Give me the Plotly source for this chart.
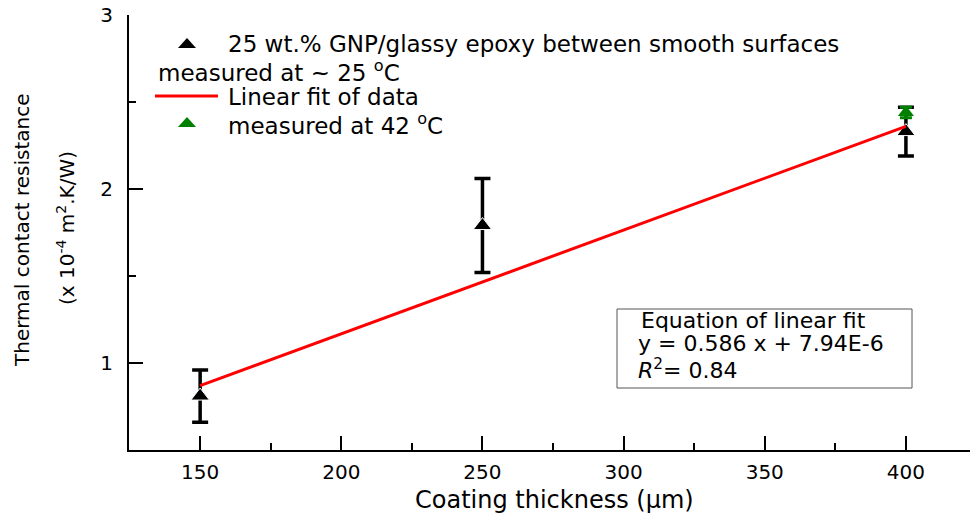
import plotly.graph_objects as go

# ---- data ----
thickness = [150, 250, 400]            # coating thickness (um)
resistance = [0.81, 1.79, 2.33]        # x 1e-4 m2.K/W, measured at ~25 C
resistance_err = [0.15, 0.27, 0.14]
hot_thickness = [400]                  # measured at 42 C
hot_resistance = [2.44]
hot_err = [0.03]
fit_x = [150, 400]                     # linear fit end points
fit_y = [0.87, 2.36]
x_tick_vals = [150, 200, 250, 300, 350, 400]
x_minor_vals = [175, 225, 275, 325, 375]
y_tick_vals = [1, 2, 3]
y_minor_vals = [1.5, 2.5]

legend_main = "25 wt.% GNP/glassy epoxy between smooth surfaces"
legend_main2 = "measured at ~ 25 <sup>o</sup>C"
legend_fit = "Linear fit of data"
legend_hot = "measured at 42 <sup>o</sup>C"
eq_lines = ["Equation of linear fit", "y = 0.586 x + 7.94E-6", "<i>R</i><sup>2</sup>= 0.84"]

# ---- layout geometry (pixels) ----
W, H = 970, 517
L, R, T, B = 129, 0, 15, 67
PW, PH = W - L - R, H - T - B


def px(x):
    return (x - L) / PW


def py(y):
    return 1 - (y - T) / PH


FONT = "DejaVu Sans, Verdana, sans-serif"

fig = go.Figure()

fig.add_trace(go.Scatter(
    x=thickness, y=resistance, mode="markers",
    marker=dict(symbol="triangle-up", size=16, color="black",
                line=dict(color="white", width=1)),
    error_y=dict(type="data", array=resistance_err, visible=True,
                 color="black", thickness=3.5, width=8),
    showlegend=False))

fig.add_trace(go.Scatter(
    x=fit_x, y=fit_y, mode="lines",
    line=dict(color="#ff0000", width=3), showlegend=False))

fig.add_trace(go.Scatter(
    x=hot_thickness, y=hot_resistance, mode="markers",
    marker=dict(symbol="triangle-up", size=14, color="#008000"),
    error_y=dict(type="data", array=hot_err, visible=True,
                 color="#008000", thickness=3, width=6),
    showlegend=False))

annotations = []
shapes = []

# custom legend
leg_font = dict(family=FONT, size=23, color="black")
annotations.append(dict(x=px(226), y=py(44), xref="paper", yref="paper",
                        text=legend_main, showarrow=False, xanchor="left",
                        yanchor="middle", font=leg_font))
annotations.append(dict(x=px(156), y=py(71), xref="paper", yref="paper",
                        text=legend_main2, showarrow=False, xanchor="left",
                        yanchor="middle", font=leg_font))
annotations.append(dict(x=px(226), y=py(97), xref="paper", yref="paper",
                        text=legend_fit, showarrow=False, xanchor="left",
                        yanchor="middle", font=leg_font))
annotations.append(dict(x=px(226), y=py(124), xref="paper", yref="paper",
                        text=legend_hot, showarrow=False, xanchor="left",
                        yanchor="middle", font=leg_font))

tri_path = "M -9,-4 L 9,-4 L 0,6 Z"
for yy, col in [(44, "black"), (123, "#008000")]:
    shapes.append(dict(type="path", xref="paper", yref="paper",
                       xsizemode="pixel", ysizemode="pixel",
                       xanchor=px(187), yanchor=py(yy), path=tri_path,
                       fillcolor=col, line=dict(width=0)))
shapes.append(dict(type="line", xref="paper", yref="paper",
                   x0=px(155), x1=px(218), y0=py(96), y1=py(96),
                   line=dict(color="#ff0000", width=3)))

# equation box
shapes.append(dict(type="rect", xref="paper", yref="paper",
                   x0=px(617), x1=px(912), y0=py(388), y1=py(309),
                   line=dict(color="#555555", width=1), fillcolor="rgba(0,0,0,0)"))
eq_font = dict(family=FONT, size=22, color="black")
for txt, yy, xx in zip(eq_lines, [320, 343, 369], [639, 636, 636]):
    annotations.append(dict(x=px(xx), y=py(yy), xref="paper", yref="paper",
                            text=txt, showarrow=False, xanchor="left",
                            yanchor="middle", font=eq_font))

# axis titles
annotations.append(dict(x=px(22), y=py(231), xref="paper", yref="paper",
                        text="Thermal contact resistance", textangle=-90,
                        showarrow=False, xanchor="center", yanchor="middle",
                        font=dict(family=FONT, size=20, color="black")))
annotations.append(dict(x=px(66), y=py(228), xref="paper", yref="paper",
                        text="(x 10<sup>-4</sup> m<sup>2</sup>.K/W)", textangle=-90,
                        showarrow=False, xanchor="center", yanchor="middle",
                        font=dict(family=FONT, size=20, color="black")))
annotations.append(dict(x=px(554), y=py(500), xref="paper", yref="paper",
                        text="Coating thickness (\u03bcm)",
                        showarrow=False, xanchor="center", yanchor="middle",
                        font=dict(family=FONT, size=24, color="black")))

tick_font = dict(family=FONT, size=20, color="black")
fig.update_layout(
    width=W, height=H,
    margin=dict(l=L, r=R, t=T, b=B, pad=0),
    paper_bgcolor="white", plot_bgcolor="white",
    showlegend=False,
    shapes=shapes, annotations=annotations,
    xaxis=dict(range=[124.8, 422.7], tickvals=x_tick_vals, ticks="inside",
               ticklen=14, tickwidth=2, tickcolor="black",
               showline=True, linecolor="black", linewidth=2,
               showgrid=False, zeroline=False, tickfont=tick_font,
               ticklabelstandoff=3,
               minor=dict(tickvals=x_minor_vals, ticks="inside", ticklen=7,
                          tickwidth=2, tickcolor="black", showgrid=False)),
    yaxis=dict(range=[0.5, 3], tickvals=y_tick_vals, ticks="inside",
               ticklen=14, tickwidth=2, tickcolor="black",
               showline=True, linecolor="black", linewidth=2,
               showgrid=False, zeroline=False, tickfont=tick_font,
               ticklabelstandoff=10,
               minor=dict(tickvals=y_minor_vals, ticks="inside", ticklen=7,
                          tickwidth=2, tickcolor="black", showgrid=False)),
)

fig.write_html("out.html")
